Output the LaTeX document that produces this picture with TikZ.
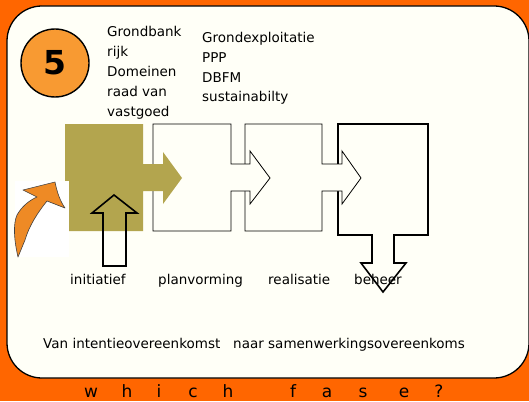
\documentclass[tikz,border=0pt]{standalone}
\usepackage{fontspec}
\setmainfont{DejaVu Sans}
\usepackage{xcolor}
\usetikzlibrary{positioning}

\definecolor{bgorange}{HTML}{FF6600}
\definecolor{panelcream}{HTML}{FFFFF7}
\definecolor{badgeorange}{HTML}{F89A32}
\definecolor{stepolive}{HTML}{B3A54E}
\definecolor{curlorange}{HTML}{EE8A25}

\begin{document}
\begin{tikzpicture}[
  x=1pt, y=-1pt,
  txt/.style={font=\fontsize{13.5}{19.8}\selectfont, align=left, inner sep=0pt},
  steplabel/.style={font=\fontsize{13.5}{16}\selectfont, inner sep=0pt, anchor=base west},
  stepshape/.style={draw, fill=panelcream, line width=0.8pt, line join=miter},
  fasechar/.style={font=\fontsize{17}{17}\selectfont, inner sep=0pt, anchor=base}
]
  \fill[bgorange] (0,0) rectangle (529,401);
  \useasboundingbox (0,0) rectangle (529,401);

  % panel
  \begin{scope}
    \clip (0,0) rectangle (529,401);
    \draw[fill=panelcream, line width=1.3pt, rounded corners=35pt] (7,6) rectangle (529,378);
  \end{scope}

  % badge
  \node[circle, draw, line width=1.4pt, fill=badgeorange, minimum size=68pt, inner sep=0pt,
        font=\fontsize{33}{33}\selectfont\bfseries] (badge) at (55,63) {5};

  % actors and contract forms
  \node[txt, anchor=north west] (actors) at (107,26.5) {Grondbank\\rijk\\Domeinen\\raad van\\vastgoed};
  \node[txt, anchor=north west] (forms) at (202,32) {Grondexploitatie\\PPP\\DBFM\\sustainabilty};

  % phases, drawn back to front
  \draw[stepshape, line width=1.6pt] (338,124) -- (428,124) -- (428,235) -- (394,235) -- (394,263)
    -- (406,263) -- (383,292) -- (361,263) -- (372,263) -- (372,235) -- (338,235) -- cycle;
  \draw[stepshape] (245,124) -- (322,124) -- (322,164) -- (342,164) -- (342,151) -- (361,178)
    -- (342,204) -- (342,191) -- (322,191) -- (322,231) -- (245,231) -- cycle;
  \draw[stepshape] (153,124) -- (231,124) -- (231,164) -- (250,164) -- (250,151) -- (270,178)
    -- (250,204) -- (250,191) -- (231,191) -- (231,231) -- (153,231) -- cycle;
  \fill[stepolive] (65,124) -- (143,124) -- (143,164) -- (163,164) -- (163,152) -- (182,178)
    -- (163,204) -- (163,191) -- (143,191) -- (143,231) -- (65,231) -- cycle;

  % curved arrow
  \fill[white] (15,181) rectangle (69,257);
  \draw[fill=curlorange, draw=black!75, line width=0.6pt, line join=round]
    (18,257) .. controls (14,240) and (13,224) .. (17,215)
    .. controls (22,206) and (30,200) .. (37,197) -- (23,190) -- (55,182)
    .. controls (57,192) and (60,201) .. (65,208) -- (47,201)
    .. controls (38,212) and (29,226) .. (25,240) -- cycle;

  % initiative arrow
  \draw[line width=1.6pt, line join=miter] (103,266) -- (103,213) -- (92,213) -- (114,195)
    -- (137,213) -- (126,213) -- (126,266) -- cycle;

  % phase labels
  \node[steplabel] (initiatief) at (70,284) {initiatief};
  \node[steplabel] (planvorming) at (158,284) {planvorming};
  \node[steplabel] (realisatie) at (268,284) {realisatie};
  \node[steplabel] (beheer) at (354,284) {beheer};

  \node[steplabel] (agreement) at (43,348) {Van intentieovereenkomst\ \ \ naar samenwerkingsovereenkoms};

  % bottom caption
  \foreach \ch/\xx [count=\i] in {w/91, h/127, i/159, c/193, h/228, f/293, a/327, s/363, e/404, ?/439}
    \node[fasechar] (fase\i) at (\xx,397) {\ch};
\end{tikzpicture}
\end{document}
